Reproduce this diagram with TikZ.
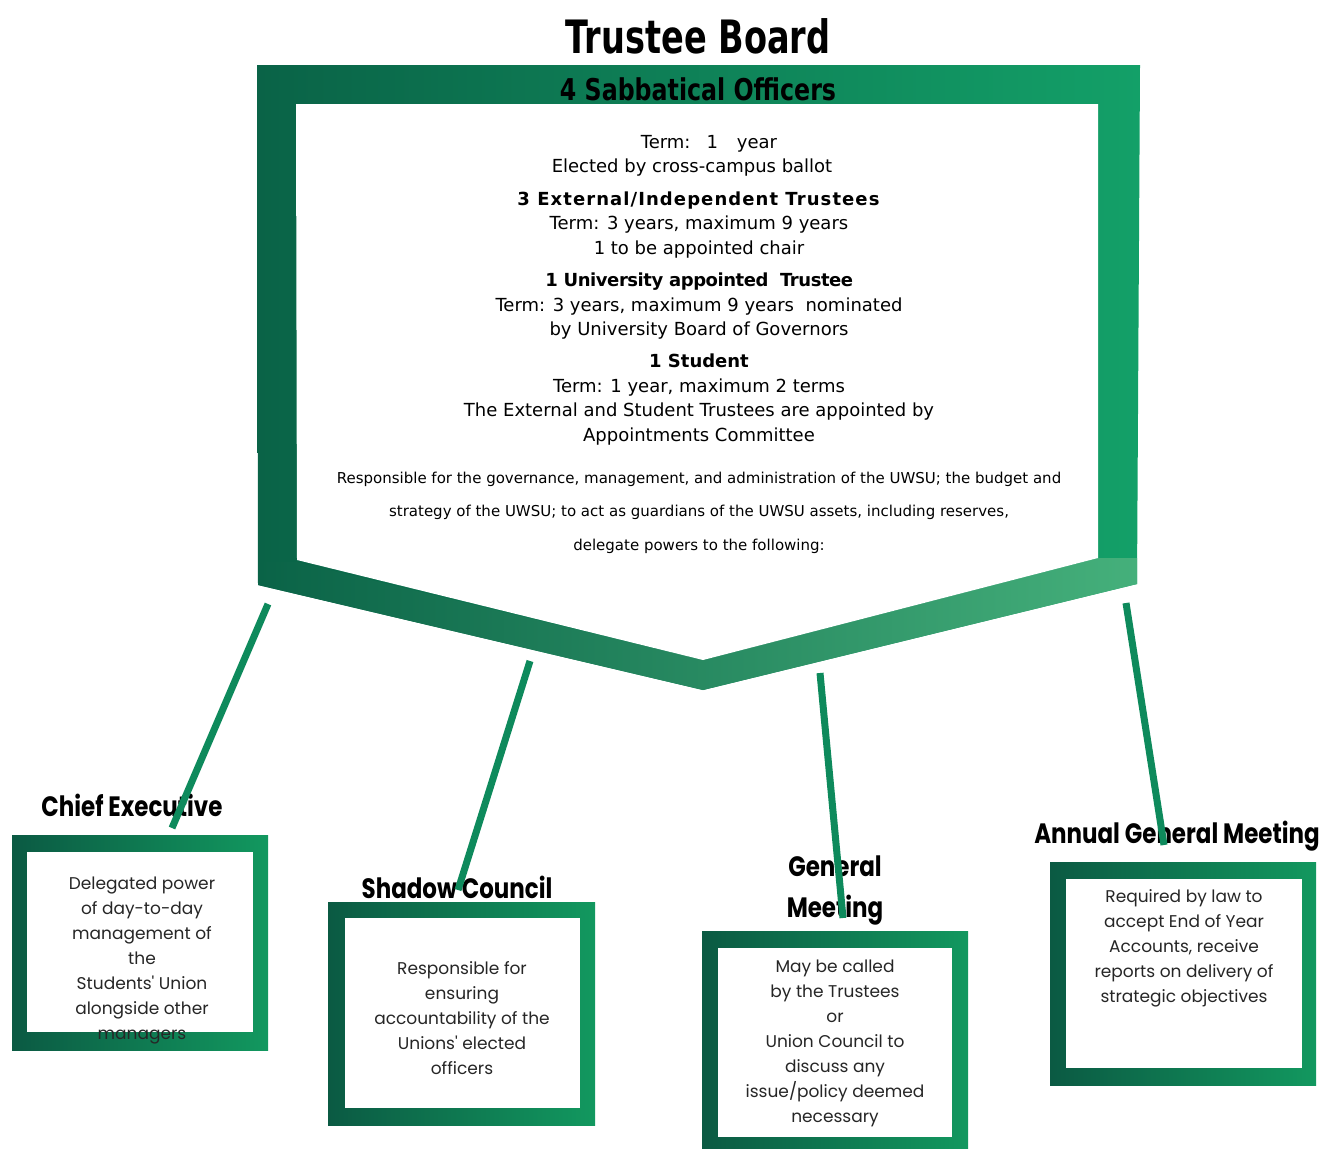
\documentclass[tikz,border=0pt]{standalone}
\usepackage{fontspec}
\setmainfont{DejaVu Sans}
\newfontfamily\titlefont[FakeStretch=0.73]{DejaVu Sans}
\newfontfamily\sabbfont[FakeStretch=0.79]{DejaVu Sans}
\newfontfamily\headfont[FakeStretch=0.82]{Poppins}
\newfontfamily\boxfont{Poppins}
\usetikzlibrary{positioning}
\definecolor{frame dark}{HTML}{0A6347}
\definecolor{frame mid}{HTML}{0E8A5C}
\definecolor{frame light}{HTML}{13A068}
\definecolor{band light}{HTML}{45B07B}
\definecolor{box dark}{HTML}{0B5A43}
\definecolor{box light}{HTML}{12985F}
\colorlet{link}{frame mid}

\begin{document}
\begin{tikzpicture}[x=1pt,y=-1pt,
  greenbox/.style={left color=box dark, right color=box light, inner sep=0pt},
  whitebox/.style={fill=white, inner sep=0pt},
  boardtext/.style={align=center, inner sep=0pt, font=\fontsize{18}{24.5}\selectfont},
  boxhead/.style={align=center, inner sep=0pt, font=\headfont\bfseries\fontsize{28}{41}\selectfont},
  boxtext/.style={align=center, inner sep=0pt, text=black!85, font=\boxfont\fontsize{17}{25}\selectfont},
  linkline/.style={draw=link, line width=7pt}]
\useasboundingbox (0,0) rectangle (1340,1148);

% the board
\node[font=\titlefont\bfseries\fontsize{46}{50}\selectfont] (title) at (698,36) {Trustee Board};
\shade[left color=frame dark, middle color=frame mid, right color=frame light]
  (257,65) -- (1140,65) -- (1137,584) -- (703,690) -- (258,585) -- cycle;
\shade[left color=frame dark, middle color=frame mid!85!band light, right color=band light]
  (258,562) -- (297,562) -- (703,660) -- (1098,558) -- (1137,558) -- (1137,584) -- (703,690) -- (258,585) -- cycle;
\fill[white] (296,104) -- (1098,104) -- (1098,558) -- (703,660) -- (297,560) -- cycle;
\node[font=\sabbfont\bfseries\fontsize{30}{34}\selectfont] (sabb) at (698,89) {4 Sabbatical Officers};

\node[boardtext] (sabb term) at (692,156) {\hspace*{34pt}Term:\hspace{16pt}1\hspace{19pt}year\\Elected by cross-campus ballot};
\node[boardtext] (ext) at (699,225) {\textbf{\addfontfeature{LetterSpace=6}3 External/Independent Trustees}\\Term: 3 years, maximum 9 years\\1 to be appointed chair};
\node[boardtext] (uni) at (699,306.5) {\textbf{\addfontfeature{LetterSpace=-2.5}1 University appointed\ \ Trustee}\\Term: 3 years, maximum 9 years\ \ nominated\\by University Board of Governors};
\node[boardtext] (stud) at (699,399.5) {\textbf{1 Student}\\Term: 1 year, maximum 2 terms\\The External and Student Trustees are appointed by\\Appointments Committee};
\node[boardtext, font=\fontsize{15}{33.5}\selectfont] (duty) at (699,512.5)
  {Responsible for the governance, management, and administration of the UWSU; the budget and\\
   strategy of the UWSU; to act as guardians of the UWSU assets, including reserves,\\
   delegate powers to the following:};

% chief executive
\node[greenbox, minimum width=256pt, minimum height=215pt] (ce) at (140,942.5) {};
\node[whitebox, minimum width=226pt, minimum height=180pt] (ce in) at (140,942) {};
\node[boxtext] (ce text) at (142,960.5) {Delegated power\\of day-to-day\\management of\\the\\Students' Union\\alongside other\\managers};
\node[boxhead] (ce head) at (132,805) {Chief Executive};

% shadow council
\node[greenbox, minimum width=267pt, minimum height=223pt] (sc) at (461.5,1013.5) {};
\node[whitebox, minimum width=235pt, minimum height=190pt] (sc in) at (462.5,1013) {};
\node[boxtext] (sc text) at (462,1018.5) {Responsible for\\ensuring\\accountability of the\\Unions' elected\\officers};
\node[boxhead] (sc head) at (457,887) {Shadow Council};

% general meeting
\node[greenbox, minimum width=266pt, minimum height=217pt] (gm) at (835,1039.5) {};
\node[whitebox, minimum width=234pt, minimum height=189pt] (gm in) at (835,1042.5) {};
\node[boxtext] (gm text) at (835,1043.5) {May be called\\by the Trustees\\or\\Union Council to\\discuss any\\issue/policy deemed\\necessary};
\node[boxhead] (gm head) at (835,890) {General\\Meeting};

% annual general meeting
\node[greenbox, minimum width=266pt, minimum height=223pt] (agm) at (1183,973.5) {};
\node[whitebox, minimum width=236pt, minimum height=189pt] (agm in) at (1184,973.5) {};
\node[boxtext] (agm text) at (1184,948.5) {Required by law to\\accept End of Year\\Accounts, receive\\reports on delivery of\\strategic objectives};
\node[boxhead] (agm head) at (1177,836) {Annual General Meeting};

% links from the board
\coordinate (ce top) at (268,604);   \coordinate (ce end) at (172,828);
\coordinate (sc top) at (530,661);   \coordinate (sc end) at (458,890);
\coordinate (gm top) at (820,673);   \coordinate (gm end) at (843,918);
\coordinate (agm top) at (1126,603); \coordinate (agm end) at (1164,845);
\draw[linkline] (ce top) -- (ce end);
\draw[linkline] (sc top) -- (sc end);
\draw[linkline] (gm top) -- (gm end);
\draw[linkline] (agm top) -- (agm end);
\end{tikzpicture}
\end{document}
